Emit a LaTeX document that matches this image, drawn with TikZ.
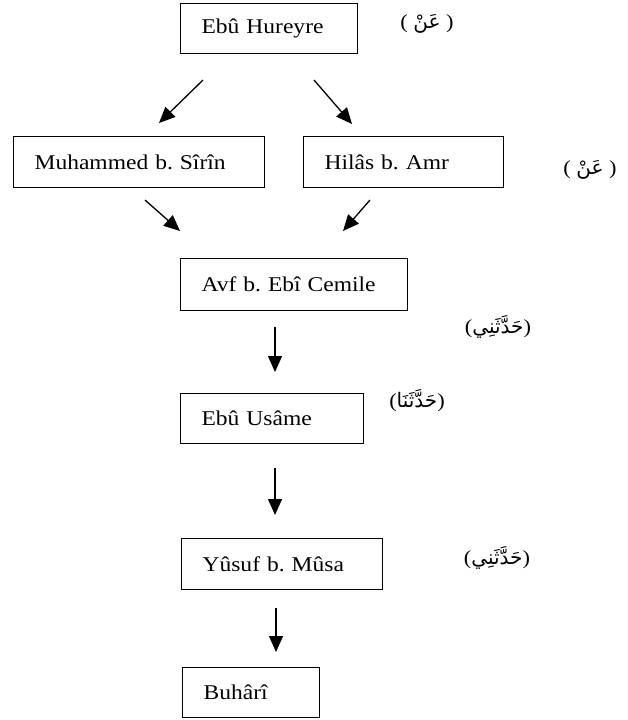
\documentclass[tikz,border=0pt]{standalone}
\usepackage{fontspec}
\setmainfont{Liberation Serif}[FakeStretch=1.12]
\newfontfamily\arabicfont[Script=Arabic]{DejaVu Sans}
\TeXXeTstate=1
\frenchspacing
\usetikzlibrary{arrows.meta}
\tikzset{
  box/.style={draw, line width=1.2pt, anchor=north west, inner xsep=21pt, inner ysep=0pt,
    align=left, font=\fontsize{21}{24}\selectfont},
  arr/.style={line width=1.3pt, -{Triangle[length=16pt,width=14pt]}},
  artext/.style={font=\fontsize{20}{24}\selectfont, inner sep=0pt},
}
\begin{document}
\begin{tikzpicture}[x=1pt,y=-1pt]
\useasboundingbox (0,0) rectangle (627,720);
% boxes
\node[box, minimum width=177, minimum height=50, text width=135] (hur) at (180,3) {Ebû Hureyre};
\node[box, minimum width=251, minimum height=51, text width=209] (muh) at (13,136) {Muhammed b. Sîrîn};
\node[box, minimum width=200, minimum height=51, text width=158] (hil) at (303,136) {Hilâs b. Amr};
\node[box, minimum width=227, minimum height=52, text width=185] (avf) at (180,258) {Avf b. Ebî Cemile};
\node[box, minimum width=183, minimum height=50, text width=141] (usa) at (180,393) {Ebû Usâme};
\node[box, minimum width=201, minimum height=51, text width=159] (yus) at (181,538) {Yûsuf b. Mûsa};
\node[box, minimum width=137, minimum height=50, text width=95] (buh) at (182,667) {Buhârî};
% arabic labels
\node[artext] (l1) at (427,24) {( {\arabicfont\beginR عَنْ\endR} )};
\node[artext] (l2) at (590,170) {( {\arabicfont\beginR عَنْ\endR} )};
\node[artext] (l3) at (498,327) {({\arabicfont\beginR حَدَّثَنِي\endR})};
\node[artext] (l4) at (417,401) {({\arabicfont\beginR حَدَّثَنَا\endR})};
\node[artext] (l5) at (497,558) {({\arabicfont\beginR حَدَّثَنِي\endR})};
% arrow end points
\coordinate (a1s) at (203,80);  \coordinate (a1e) at (159,123);
\coordinate (a2s) at (314,80);  \coordinate (a2e) at (352,124);
\coordinate (a3s) at (145,200); \coordinate (a3e) at (180,231);
\coordinate (a4s) at (370,200); \coordinate (a4e) at (343,231);
\coordinate (a5s) at (275,327); \coordinate (a5e) at (275,372);
\coordinate (a6s) at (275,468); \coordinate (a6e) at (275,515);
\coordinate (a7s) at (276,608); \coordinate (a7e) at (276,652);
\draw[arr] (a1s) -- (a1e);
\draw[arr] (a2s) -- (a2e);
\draw[arr] (a3s) -- (a3e);
\draw[arr] (a4s) -- (a4e);
\draw[arr] (a5s) -- (a5e);
\draw[arr] (a6s) -- (a6e);
\draw[arr] (a7s) -- (a7e);
\end{tikzpicture}
\end{document}
